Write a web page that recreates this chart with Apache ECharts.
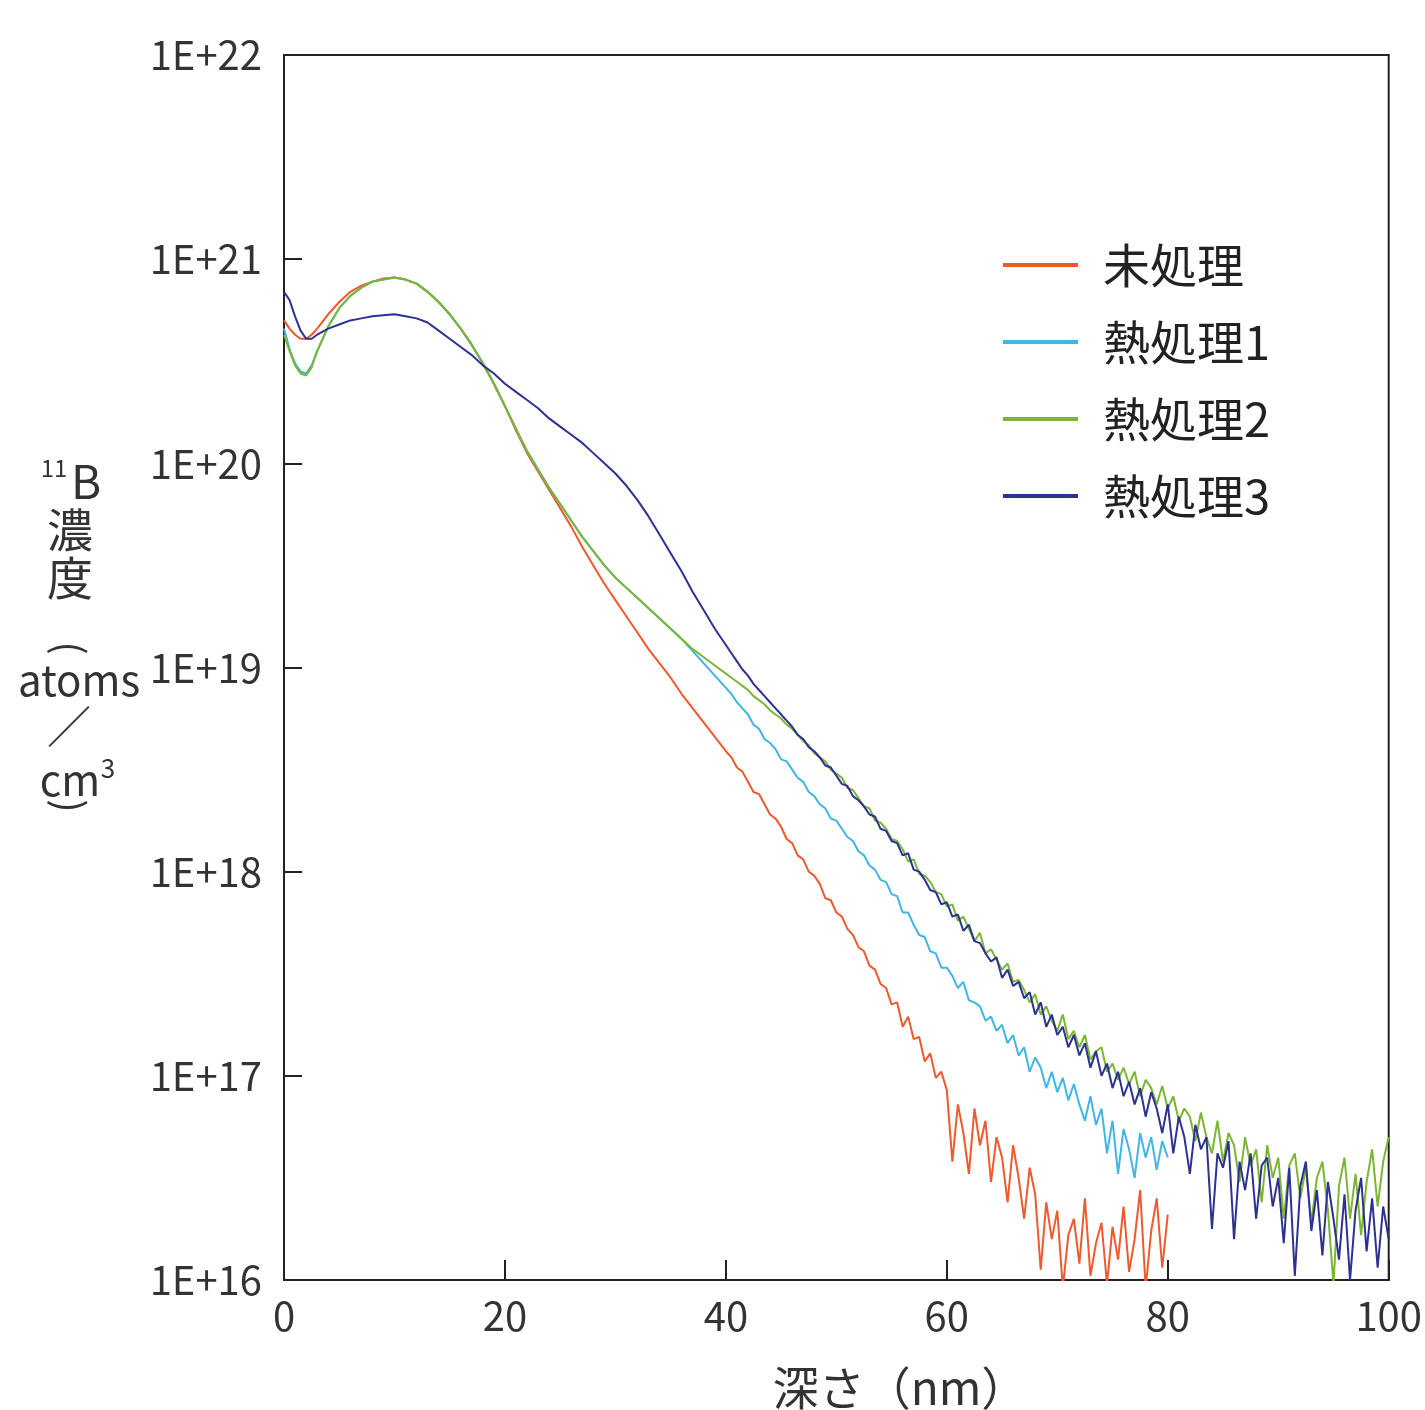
<!DOCTYPE html>
<html>
<head>
<meta charset="utf-8">
<script src="https://cdn.jsdelivr.net/npm/echarts@6/dist/echarts.min.js"></script>
<style>
  html, body { margin: 0; padding: 0; background: #ffffff; }
  #chart { width: 1425px; height: 1410px; }
</style>
</head>
<body>
<div id="chart"></div>
<script>
// ---- Data (depth in nm; concentration stored as log10 of atoms/cm3) ----
const seriesNames = ['未処理', '熱処理1', '熱処理2', '熱処理3'];
const xTickLabels = ['0', '20', '40', '60', '80', '100'];
const yTickLabels = ['1E+16', '1E+17', '1E+18', '1E+19', '1E+20', '1E+21', '1E+22'];

const depthHead = [0,0.5,1,1.5,2,2.5,3,4,5,6,7,8,9,10,11,12,13,14,15,16,17,18,19,20,21,22,23,24,25,26,27,28,29,30,31,32,33,34,35,36,37,38,39];
const depthTail = [40,40.5,41,41.5,42,42.5,43,43.5,44,44.5,45,45.5,46,46.5,47,47.5,48,48.5,49,49.5,
  50,50.5,51,51.5,52,52.5,53,53.5,54,54.5,55,55.5,56,56.5,57,57.5,58,58.5,59,59.5,
  60,60.5,61,61.5,62,62.5,63,63.5,64,64.5,65,65.5,66,66.5,67,67.5,68,68.5,69,69.5,
  70,70.5,71,71.5,72,72.5,73,73.5,74,74.5,75,75.5,76,76.5,77,77.5,78,78.5,79,79.5,
  80,80.5,81,81.5,82,82.5,83,83.5,84,84.5,85,85.5,86,86.5,87,87.5,88,88.5,89,89.5,
  90,90.5,91,91.5,92,92.5,93,93.5,94,94.5,95,95.5,96,96.5,97,97.5,98,98.5,99,99.5,100];

const untreatedHead = [20.70,20.66,20.63,20.61,20.61,20.63,20.66,
  20.73,20.79,20.84,20.87,20.89,20.905,20.91,20.90,20.88,20.84,20.79,20.73,20.66,20.58,20.49,20.39,20.28,20.16,
  20.05,19.96,19.87,19.78,19.69,19.59,19.50,19.41,19.33,19.25,19.17,19.09,19.02,18.95,18.87,18.80,18.73,18.66];
const untreatedTail = [18.59,18.56,18.51,18.49,18.44,18.39,18.38,18.33,18.28,18.26,
  18.22,18.16,18.14,18.08,18.06,18.00,17.98,17.94,17.87,17.86,
  17.80,17.78,17.72,17.69,17.63,17.61,17.54,17.52,17.45,17.43,
  17.35,17.36,17.24,17.29,17.18,17.19,17.07,17.11,16.99,17.02,
  16.93,16.58,16.86,16.72,16.52,16.84,16.66,16.78,16.48,16.70,
  16.60,16.38,16.66,16.50,16.30,16.55,16.42,16.05,16.38,16.20,
  16.34,15.96,16.22,16.30,16.08,16.40,16.02,16.18,16.28,15.98,
  16.26,16.10,16.36,16.04,16.20,16.44,15.96,16.24,16.40,16.06,
  16.32];

const heat1Head = [20.66,20.56,20.49,20.45,20.44,20.48,20.55,
  20.67,20.76,20.82,20.86,20.89,20.90,20.91,20.90,20.88,20.84,20.79,20.73,20.66,20.58,20.49,20.39,20.28,20.17,
  20.06,19.97,19.88,19.80,19.72,19.64,19.57,19.50,19.44,19.39,19.34,19.29,19.24,19.19,19.14,19.08,19.02,18.96];
const heat1Tail = [18.90,18.87,18.83,18.80,18.77,18.72,18.70,18.65,18.63,18.60,
  18.55,18.54,18.50,18.46,18.44,18.39,18.37,18.33,18.31,18.26,
  18.25,18.21,18.17,18.15,18.10,18.08,18.03,18.01,17.96,17.95,
  17.89,17.88,17.80,17.80,17.74,17.69,17.68,17.61,17.60,17.53,
  17.53,17.49,17.43,17.46,17.37,17.36,17.34,17.27,17.29,17.22,
  17.25,17.16,17.20,17.10,17.14,17.02,17.09,17.04,16.94,17.02,
  16.92,16.99,16.88,16.96,16.86,16.78,16.90,16.76,16.84,16.62,
  16.78,16.52,16.74,16.64,16.50,16.72,16.60,16.70,16.54,16.68,
  16.60];

const heat2Head = [20.63,20.55,20.48,20.44,20.43,20.47,20.55,
  20.67,20.76,20.82,20.86,20.89,20.90,20.91,20.90,20.88,20.84,20.79,20.73,20.66,20.58,20.49,20.39,20.28,20.17,
  20.06,19.97,19.88,19.80,19.72,19.64,19.57,19.50,19.44,19.39,19.34,19.29,19.24,19.19,19.14,19.09,19.05,19.01];
const heat2Tail = [18.97,18.95,18.93,18.91,18.89,18.86,18.84,18.82,18.79,18.77,
  18.75,18.72,18.70,18.67,18.64,18.62,18.58,18.56,18.54,18.50,
  18.48,18.46,18.41,18.40,18.36,18.32,18.31,18.25,18.24,18.21,
  18.16,18.15,18.11,18.05,18.06,17.99,17.98,17.95,17.90,17.89,
  17.83,17.84,17.76,17.78,17.72,17.66,17.70,17.60,17.62,17.57,
  17.52,17.55,17.46,17.47,17.42,17.36,17.40,17.30,17.34,17.27,
  17.22,17.30,17.18,17.22,17.14,17.20,17.08,17.12,17.14,17.02,
  17.06,16.98,17.04,16.96,17.02,16.90,16.98,16.94,16.86,16.95,
  16.84,16.90,16.78,16.84,16.80,16.68,16.82,16.70,16.62,16.78,
  16.58,16.72,16.66,16.48,16.70,16.56,16.64,16.38,16.66,16.50,
  16.60,16.30,16.56,16.62,16.40,16.55,16.28,16.50,16.58,16.34,
  15.98,16.46,16.60,16.30,16.52,16.22,16.48,16.64,16.36,16.58,
  16.70];

const heat3Head = [20.84,20.80,20.72,20.65,20.61,20.61,20.63,
  20.66,20.68,20.70,20.71,20.72,20.725,20.73,20.72,20.71,20.69,20.65,20.61,20.57,20.53,20.48,20.44,20.39,20.35,
  20.31,20.27,20.22,20.18,20.14,20.10,20.05,20.00,19.95,19.89,19.82,19.74,19.65,19.56,19.47,19.37,19.28,19.19];
const heat3Tail = [19.11,19.07,19.03,18.99,18.96,18.92,18.89,18.86,18.83,18.80,
  18.77,18.74,18.71,18.67,18.65,18.61,18.59,18.56,18.52,18.51,
  18.47,18.43,18.42,18.37,18.35,18.32,18.28,18.27,18.21,18.20,
  18.15,18.14,18.08,18.09,18.01,18.00,17.96,17.91,17.90,17.84,
  17.85,17.78,17.79,17.71,17.74,17.66,17.65,17.60,17.56,17.58,
  17.48,17.52,17.44,17.46,17.38,17.41,17.30,17.36,17.24,17.30,
  17.20,17.24,17.14,17.20,17.10,17.16,17.04,17.12,17.00,17.06,
  16.94,17.02,16.90,16.97,16.86,16.94,16.80,16.92,16.84,16.72,
  16.86,16.62,16.80,16.70,16.52,16.76,16.64,16.70,16.25,16.62,
  16.55,16.68,16.20,16.58,16.44,16.62,16.30,16.56,16.60,16.36,
  16.50,16.18,16.55,16.02,16.46,16.58,16.24,16.44,16.12,16.48,
  16.30,16.10,16.42,16.00,16.34,16.50,16.14,16.40,16.06,16.36,
  16.20];

// ---- Build series data from the arrays ----
const depth = depthHead.concat(depthTail);
function pairs(head, tail) {
  const logs = head.concat(tail);
  return logs.map((v, i) => [depth[i], Math.pow(10, v)]);
}
const seriesData = [
  pairs(untreatedHead, untreatedTail),
  pairs(heat1Head, heat1Tail),
  pairs(heat2Head, heat2Tail),
  pairs(heat3Head, heat3Tail)
];
const colors = ['#ee5a2e', '#41b6e6', '#7bb634', '#2d3191'];

const FONT = '"Noto Sans CJK JP", "Noto Sans", sans-serif';
const TXT = '#333333';

const chart = echarts.init(document.getElementById('chart'));
function t(x, y, text, size, rot) {
  return { type: 'text', x: x, y: y, rotation: rot || 0,
    style: { text: text, fontSize: size, fill: TXT, fontFamily: FONT, textAlign: 'center', textVerticalAlign: 'middle' } };
}
const option = {
  animation: false,
  backgroundColor: '#ffffff',
  grid: { left: 284, right: 35, top: 55, bottom: 130, show: true, borderColor: '#222', borderWidth: 2, backgroundColor: 'transparent' },
  xAxis: {
    type: 'value', min: 0, max: 100, interval: 20,
    axisLine: { lineStyle: { color: '#222', width: 2 } },
    axisTick: { inside: true, length: 20, lineStyle: { color: '#222', width: 2 } },
    splitLine: { show: false },
    axisLabel: { margin: 16, fontSize: 40, color: TXT, fontFamily: FONT,
      formatter: v => xTickLabels[Math.round(v / 20)] }
  },
  yAxis: {
    type: 'log', logBase: 10, min: 1e16, max: 1e22,
    axisLine: { lineStyle: { color: '#222', width: 2 } },
    axisTick: { inside: true, length: 18, lineStyle: { color: '#222', width: 2 } },
    splitLine: { show: false },
    axisLabel: { margin: 22, fontSize: 40, color: TXT, fontFamily: FONT,
      formatter: v => yTickLabels[Math.round(Math.log10(v)) - 16] }
  },
  legend: {
    orient: 'vertical', left: 998, top: 235,
    icon: 'rect', itemWidth: 75, itemHeight: 4, itemGap: 27,
    data: seriesNames,
    textStyle: { fontSize: 47, lineHeight: 50, color: '#222', fontFamily: FONT, padding: [0, 0, 0, 20] }
  },
  series: seriesNames.map((name, i) => ({
    name: name, type: 'line', data: seriesData[i],
    showSymbol: false, symbol: 'none', clip: true,
    color: colors[i],
    lineStyle: { width: 2, color: colors[i] }
  })),
  graphic: [
    t(900, 1388, '深さ（nm）', 46),
    t(54, 468, '11', 24),
    t(86, 482, 'B', 46),
    t(70, 530, '濃', 46),
    t(70, 578, '度', 46),
    t(70, 648, '(', 40, -Math.PI / 2),
    t(79, 680, 'atoms', 42),
    t(69, 726, '／', 44),
    t(70, 780, 'cm', 42),
    t(108, 768, '3', 26),
    t(70, 806, ')', 40, -Math.PI / 2)
  ]
};
chart.setOption(option);
</script>
</body>
</html>
